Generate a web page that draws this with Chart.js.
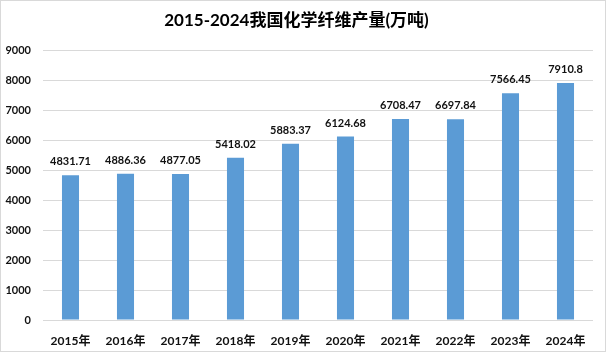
<!DOCTYPE html>
<html>
<head>
<meta charset="utf-8">
<script src="https://cdn.jsdelivr.net/npm/chart.js@4/dist/chart.umd.min.js"></script>
<style>
    html, body { margin: 0; padding: 0; background: #fff; }
    #wrap { width: 607px; height: 354px; }
</style>
</head>
<body>
<div id="wrap"><canvas id="barChart" width="607" height="354"></canvas></div>
<script>
(function () {

    var years = ["2015年", "2016年", "2017年", "2018年", "2019年", "2020年", "2021年", "2022年", "2023年", "2024年"];
    var output = [4831.71, 4886.36, 4877.05, 5418.02, 5883.37, 6124.68, 6708.47, 6697.84, 7566.45, 7910.8];
    var yTicks = [0, 1000, 2000, 3000, 4000, 5000, 6000, 7000, 8000, 9000];

    var fontFamily = "Lato, 'Noto Sans CJK SC', sans-serif";
    var barColor = "#5B9BD5";

    // frame round the whole picture
    var framePlugin = {
        id: "frame",
        beforeDraw: function (chart) {
            var ctx = chart.ctx;
            ctx.save();
            ctx.fillStyle = "#fff";
            ctx.fillRect(0, 0, chart.width, chart.height);
            ctx.strokeStyle = "#d9d9d9";
            ctx.lineWidth = 1;
            ctx.strokeRect(0.5, 0.5, chart.width - 2, chart.height - 3);
            ctx.restore();
        }
    };

    // value labels above the bars
    var valueLabels = {
        id: "valueLabels",
        afterDatasetsDraw: function (chart) {
            var ctx = chart.ctx;
            var meta = chart.getDatasetMeta(0);
            ctx.save();
            ctx.font = "bold 11px " + fontFamily;
            ctx.fillStyle = "#111";
            ctx.textAlign = "center";
            ctx.textBaseline = "bottom";
            meta.data.forEach(function (bar, i) {
                ctx.fillText(String(output[i]), bar.x, bar.y - 8);
            });
            ctx.restore();
        }
    };

    var barChartCanvas = document.getElementById("barChart").getContext("2d");

    new Chart(barChartCanvas, {
        type: "bar",
        data: {
            labels: years,
            datasets: [{
                data: output,
                backgroundColor: barColor,
                borderWidth: 0,
                categoryPercentage: 1,
                barPercentage: 0.31
            }]
        },
        options: {
            responsive: false,
            animation: false,
            layout: { padding: { top: 0, left: 0, right: 14, bottom: 0 } },
            plugins: {
                legend: { display: false },
                tooltip: { enabled: false },
                title: {
                    display: true,
                    text: "2015-2024我国化学纤维产量(万吨)",
                    color: "#000",
                    font: { family: fontFamily, size: 17, weight: "bold" },
                    padding: { top: 10, bottom: 20 }
                }
            },
            scales: {
                x: {
                    grid: { display: false },
                    border: { display: false },
                    ticks: {
                        color: "#111",
                        font: { family: fontFamily, size: 12, weight: "bold" },
                        padding: 6,
                        maxRotation: 0
                    },
                    afterFit: function (scale) { scale.height = 34; }
                },
                y: {
                    min: 0,
                    max: 9000,
                    afterBuildTicks: function (scale) {
                        scale.ticks = yTicks.map(function (v) { return { value: v }; });
                    },
                    grid: { color: "#d9d9d9", drawTicks: false },
                    border: { display: false },
                    ticks: {
                        color: "#111",
                        font: { family: fontFamily, size: 11, weight: "bold" },
                        padding: 12,
                        callback: function (value) { return String(value); }
                    },
                    afterFit: function (scale) { scale.width = 43; }
                }
            }
        },
        plugins: [framePlugin, valueLabels]
    });

})();
</script>
</body>
</html>
